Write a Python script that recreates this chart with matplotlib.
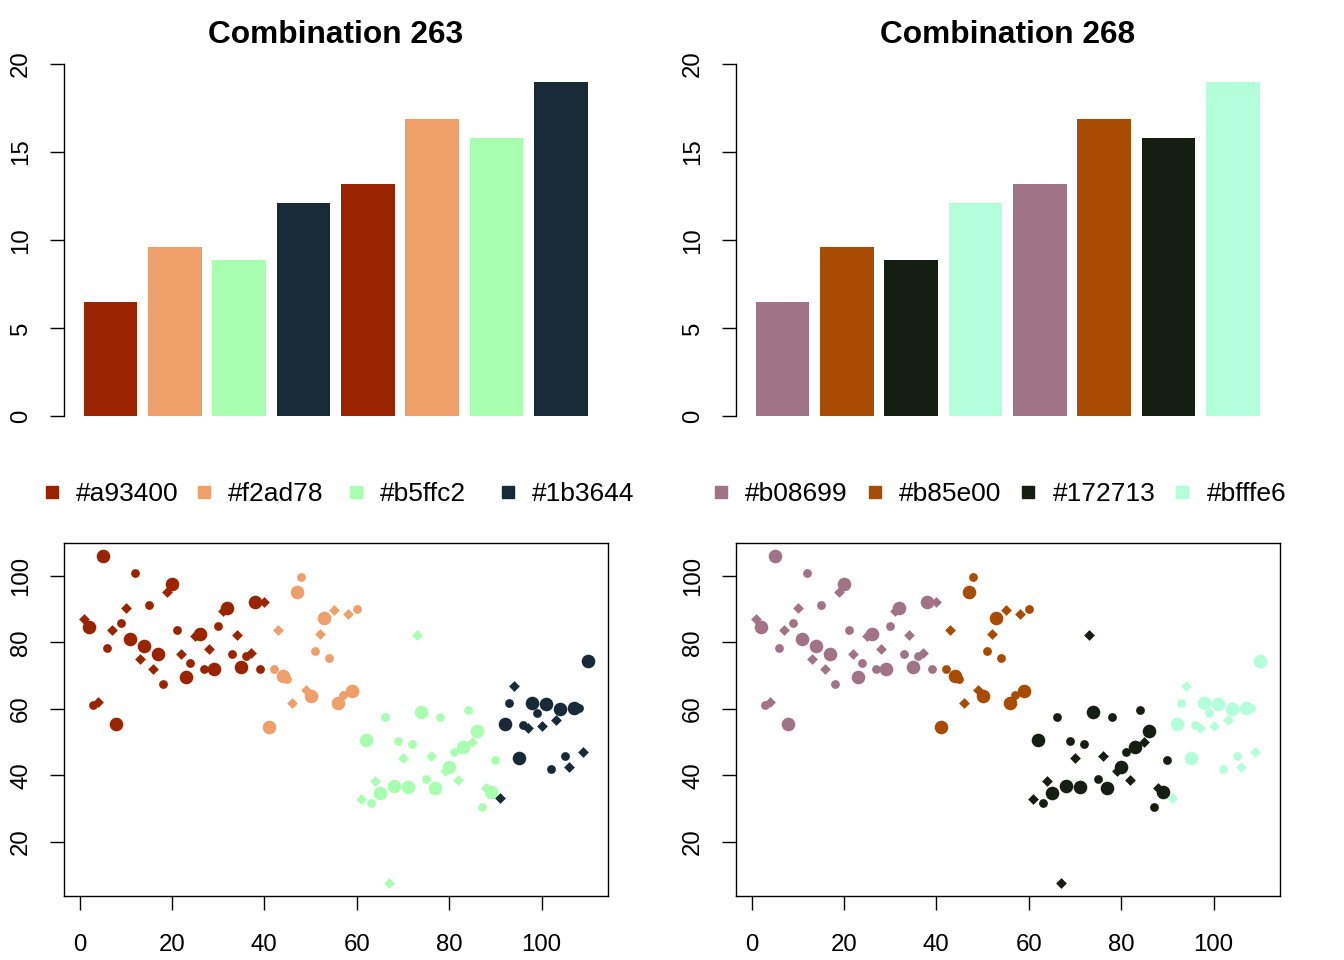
import matplotlib
matplotlib.use("Agg")
import matplotlib.pyplot as plt
import numpy as np
from matplotlib.lines import Line2D

plt.rcParams['font.family'] = ['Liberation Sans', 'DejaVu Sans']

# data
bar_values = [6.5, 9.6, 8.9, 12.1, 13.2, 16.9, 15.8, 19.0]

titles = ['Combination 263', 'Combination 268']
palette_labels = [['#a93400', '#f2ad78', '#b5ffc2', '#1b3644'],
                  ['#b08699', '#b85e00', '#172713', '#bfffe6']]
# colours as they show up in the picture
palette_shown = [['#9b2400', '#ee9f6a', '#a9ffb0', '#172a36'],
                 ['#a07386', '#a84c04', '#161d12', '#b3ffdc']]

scatter_x = np.arange(1, 111)
scatter_y = [
    87.1, 84.6, 61.3, 62.2, 106.0, 78.3, 83.7, 55.5, 85.8, 90.5,
    81.1, 100.8, 75.1, 78.9, 91.2, 72.1, 76.5, 67.6, 95.3, 97.5,
    83.6, 76.5, 69.6, 73.7, 81.9, 82.6, 72.1, 77.9, 72.1, 84.9,
    89.6, 90.3, 76.4, 82.1, 72.6, 76.0, 76.9, 92.2, 71.9, 92.3,
    54.5, 72.0, 83.6, 70.0, 69.0, 61.9, 95.2, 99.7, 65.8, 63.8,
    77.3, 82.5, 87.3, 75.2, 89.9, 61.7, 64.3, 88.5, 65.5, 90.2,
    33.0, 50.7, 31.6, 38.2, 34.6, 57.7, 7.6, 36.8, 50.4, 45.1,
    36.6, 49.3, 82.3, 59.2, 39.0, 45.8, 36.3, 57.7, 41.4, 42.6,
    47.0, 38.6, 48.6, 59.6, 49.9, 53.2, 30.4, 36.1, 35.0, 44.6,
    33.2, 55.4, 61.7, 66.8, 45.1, 55.0, 54.2, 61.9, 58.9, 54.7,
    61.4, 41.8, 56.7, 59.9, 45.8, 42.6, 60.4, 60.2, 47.1, 74.5,
]
group_breaks = [40.5, 60.5, 90.5]

# point styles cycle: diamond, big dot, small dot
point_styles = [('D', 30), ('o', 96), ('o', 40)]

W, H = 1344, 960
fig = plt.figure(figsize=(W / 100, H / 100), dpi=100)


def px_box(x0, y0, x1, y1):
    return [x0 / W, 1 - y1 / H, (x1 - x0) / W, (y1 - y0) / H]


def style_ticks(ax):
    ax.tick_params(axis='both', length=10.4, width=1.0, labelsize=17.3, color='black')
    ax.tick_params(axis='x', pad=17.0)
    ax.tick_params(axis='y', pad=12.5, labelrotation=90)
    for lab in ax.get_yticklabels():
        lab.set_verticalalignment('center')


groups = np.digitize(scatter_x, group_breaks)

for p in range(2):
    off = 672 * p
    cols = palette_shown[p]

    # bar chart
    ax = fig.add_axes(px_box(63.5 + off, 64, 608 + off, 429.8))
    pos = 0.7 + 1.2 * np.arange(len(bar_values))
    ax.bar(pos, bar_values, width=1.0, color=[cols[i % 4] for i in range(len(bar_values))])
    ax.set_xlim(-0.176, 9.976)
    ax.set_ylim(-0.76, 19.76)
    ax.set_yticks([0, 5, 10, 15, 20])
    ax.set_xticks([])
    for s in ['top', 'right', 'bottom']:
        ax.spines[s].set_visible(False)
    ax.spines['left'].set_bounds(0, 20)
    ax.spines['left'].set_linewidth(1.0)
    style_ticks(ax)
    fig.text((336 + off) / W, 1 - 43 / H, titles[p], ha='center', va='baseline',
             fontsize=22.8, fontweight='bold')

    # legend row
    starts = [51.5, 720.7]
    steps = [152.1, 153.8]
    for i, lab in enumerate(palette_labels[p]):
        sx = starts[p] + i * steps[p]
        fig.add_artist(Line2D([sx / W], [1 - 492 / H], marker='s', markersize=9,
                              color=cols[i], linestyle='none', transform=fig.transFigure))
        fig.text((sx + 24.5) / W, 1 - 501 / H, lab, ha='left', va='baseline', fontsize=19)

    # scatter
    ax2 = fig.add_axes(px_box(64 + off, 543, 608 + off, 896))
    for k in range(len(scatter_x)):
        mk, sz = point_styles[k % 3]
        ax2.scatter(scatter_x[k], scatter_y[k], marker=mk, s=sz, color=cols[groups[k]],
                    linewidths=0)
    ax2.set_xlim(-3.36, 114.36)
    ax2.set_ylim(3.66, 109.94)
    ax2.set_xticks([0, 20, 40, 60, 80, 100])
    ax2.set_yticks([20, 40, 60, 80, 100])
    for s in ax2.spines.values():
        s.set_linewidth(1.0)
    style_ticks(ax2)

plt.savefig('out.png', dpi=100)
